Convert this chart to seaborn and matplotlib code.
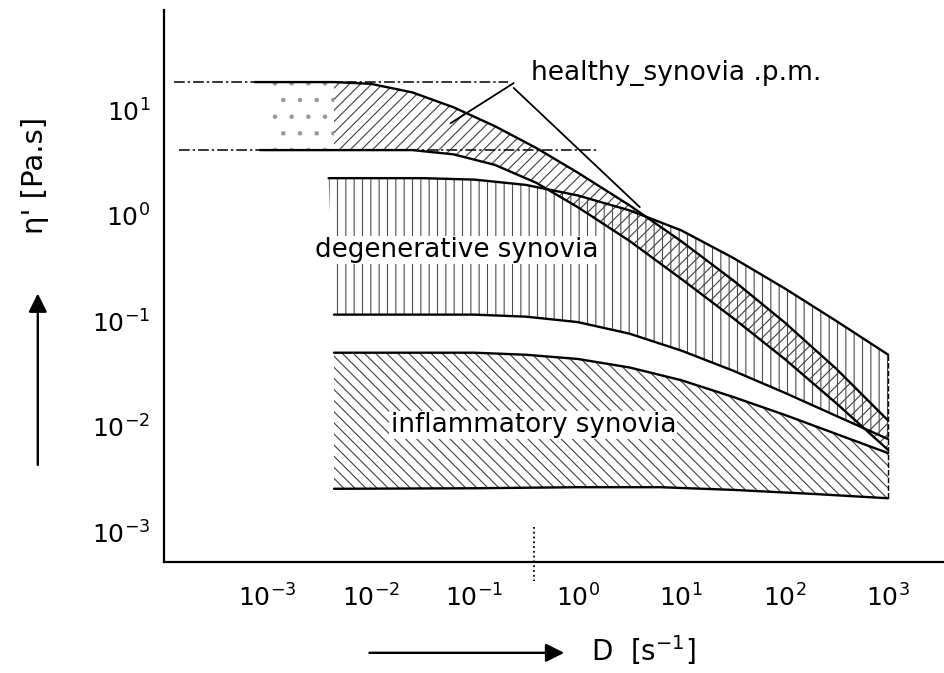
import numpy as np
import seaborn as sns
import matplotlib.pyplot as plt

# --- values (D in s^-1, eta' in Pa.s) ---
healthy_upper_D = [7.6e-4, 4.4e-3, 0.01, 0.0251, 0.0631, 0.158, 0.398, 1.0, 3.16, 10, 31.6, 100, 316, 1000]
healthy_upper_eta = [18.4, 18.4, 17.7, 14.7, 10.6, 7.03, 4.36, 2.55, 1.25, 0.571, 0.244, 0.097, 0.0352, 0.0114]

healthy_lower_D = [8.5e-4, 4.4e-3, 0.0251, 0.0631, 0.158, 0.398, 1.0, 3.16, 10, 31.6, 100, 316, 1000]
healthy_lower_eta = [4.17, 4.17, 4.17, 3.80, 3.02, 2.04, 1.20, 0.575, 0.251, 0.107, 0.0437, 0.0166, 0.0060]

degen_upper_D = [3.9e-3, 0.0316, 0.1, 0.316, 1.0, 3.16, 10, 31.6, 100, 316, 1000]
degen_upper_eta = [2.26, 2.26, 2.19, 1.95, 1.55, 1.12, 0.724, 0.398, 0.204, 0.100, 0.048]

degen_lower_D = [4.4e-3, 0.1, 0.316, 1.0, 3.16, 10, 31.6, 100, 316, 1000]
degen_lower_eta = [0.115, 0.115, 0.110, 0.0977, 0.0759, 0.0525, 0.0339, 0.0209, 0.0126, 0.0076]

infl_upper_D = [4.4e-3, 0.1, 0.316, 1.0, 3.16, 10, 31.6, 100, 316, 1000]
infl_upper_eta = [0.0501, 0.0501, 0.0479, 0.0437, 0.0363, 0.0275, 0.0191, 0.0129, 0.0085, 0.0056]

infl_lower_D = [4.4e-3, 0.1, 1.0, 6.3, 31.6, 200, 1000]
infl_lower_eta = [0.00257, 0.00260, 0.00266, 0.00266, 0.00251, 0.00229, 0.00209]

# dash-dot plateau guide lines (start, end)
plateau_upper_D = [1.25e-4, 0.21]
plateau_upper_eta = [18.4, 18.4]
plateau_lower_D = [1.4e-4, 1.55]
plateau_lower_eta = [4.17, 4.17]

x_ticks = [1e-3, 1e-2, 1e-1, 1e0, 1e1, 1e2, 1e3]
x_tick_labels = [r'$10^{-3}$', r'$10^{-2}$', r'$10^{-1}$', r'$10^{0}$',
                 r'$10^{1}$', r'$10^{2}$', r'$10^{3}$']
x_minor = [5e-4, 5e-3, 5e-2, 5e-1, 5, 50, 500]
y_ticks = [1e-3, 1e-2, 1e-1, 1e0, 1e1]
y_tick_labels = [r'$10^{-3}$', r'$10^{-2}$', r'$10^{-1}$', r'$10^{0}$', r'$10^{1}$']
y_minor = [5e-3, 5e-2, 5e-1, 5]


sns.set_style("white")
plt.rcParams['font.family'] = ['DejaVu Sans']
plt.rcParams['text.color'] = 'black'
plt.rcParams['hatch.linewidth'] = 0.8

fig = plt.figure(figsize=(9.45, 6.73), dpi=100)
ax = fig.add_axes([164 / 945, 1 - 562 / 673, 1 - 164 / 945, (562 - 10) / 673])
ax.set_xscale('log')
ax.set_yscale('log')

# hatched bands
def band(ax, xu, yu, xl, yl, hatch, color='black'):
    xs = list(xu) + list(xl)[::-1]
    ys = list(yu) + list(yl)[::-1]
    ax.fill(xs, ys, facecolor='none', edgecolor=color, linewidth=0, hatch=hatch)

band(ax, healthy_upper_D[1:], healthy_upper_eta[1:],
     healthy_lower_D[1:], healthy_lower_eta[1:], '///', '0.25')
ax.fill_between([1.1e-3, 4.4e-3], 4.17, 18.4, facecolor='none',
                edgecolor='0.6', linewidth=0, hatch='.')
band(ax, degen_upper_D, degen_upper_eta, degen_lower_D, degen_lower_eta, '||', '0.3')
band(ax, infl_upper_D, infl_upper_eta, infl_lower_D, infl_lower_eta, '\\\\\\', '0.25')

# guide lines
for xs, ys in [(plateau_upper_D, plateau_upper_eta), (plateau_lower_D, plateau_lower_eta)]:
    ax.plot(xs, ys, color='black', lw=1.1, dashes=(7, 2, 1.5, 2))

# boundary curves
for xs, ys in [(healthy_upper_D, healthy_upper_eta), (healthy_lower_D, healthy_lower_eta),
               (degen_upper_D, degen_upper_eta), (degen_lower_D, degen_lower_eta),
               (infl_upper_D, infl_upper_eta), (infl_lower_D, infl_lower_eta)]:
    sns.lineplot(x=xs, y=ys, color='black', lw=1.7, ax=ax)

ax.vlines(1000, infl_lower_eta[-1], degen_upper_eta[-1], color='black', lw=1.0,
          linestyles=(0, (4, 1.5)))

# leader lines of the label
ax.plot([0.24, 0.059], [18.0, 7.5], color='black', lw=1.3)
ax.plot([0.24, 3.98], [16.2, 1.2], color='black', lw=1.3)
ax.plot([0.38, 0.38], [1.12e-3, 3.4e-4], color='black', lw=1.3, ls=':', clip_on=False)

bbox = dict(facecolor='white', edgecolor='none', pad=1)
ax.text(0.35, 22.4, "healthy_synovia .p.m.", fontsize=19, ha='left', va='center')
ax.text(0.0029, 0.47, "degenerative synovia", fontsize=18.8, ha='left', va='center', bbox=bbox)
ax.text(0.0155, 0.0103, "inflammatory synovia", fontsize=18.8, ha='left', va='center', bbox=bbox)

ax.set_xlim(1e-4, 10 ** 3.55)
ax.set_ylim(10 ** -3.284, 10 ** 1.948)
ax.set_xticks(x_ticks)
ax.set_xticklabels(x_tick_labels)
ax.set_xticks(x_minor, minor=True)
ax.set_yticks(y_ticks)
ax.set_yticklabels(y_tick_labels)
ax.set_yticks(y_minor, minor=True)
ax.xaxis.set_minor_formatter(plt.NullFormatter())
ax.yaxis.set_minor_formatter(plt.NullFormatter())

ax.tick_params(axis='x', which='major', direction='in', length=11, width=1.3,
               pad=16, labelsize=18, colors='black')
ax.tick_params(axis='x', which='minor', direction='in', length=6, width=1.3)
ax.tick_params(axis='y', which='both', direction='in', length=8, width=1.3,
               pad=10, labelsize=18, colors='black')
for s in ['top', 'right']:
    ax.spines[s].set_visible(False)
for s in ['left', 'bottom']:
    ax.spines[s].set_color('black')
    ax.spines[s].set_linewidth(1.6)

# axis titles with arrows
fig.text(0.037, 0.74, "η' [Pa.s]", fontsize=21, rotation=90, ha='center', va='center')
fig.add_artist(plt.matplotlib.patches.FancyArrowPatch(
    (0.040, 0.305), (0.040, 0.568), transform=fig.transFigure,
    arrowstyle='-|>', mutation_scale=28, color='black', lw=1.7))
fig.text(0.6254, 0.034, r"D  [s$^{-1}$]", fontsize=20, ha='left', va='center')
fig.add_artist(plt.matplotlib.patches.FancyArrowPatch(
    (0.388, 0.030), (0.600, 0.030), transform=fig.transFigure,
    arrowstyle='-|>', mutation_scale=28, color='black', lw=1.7))

fig.savefig('out.png', dpi=100)
